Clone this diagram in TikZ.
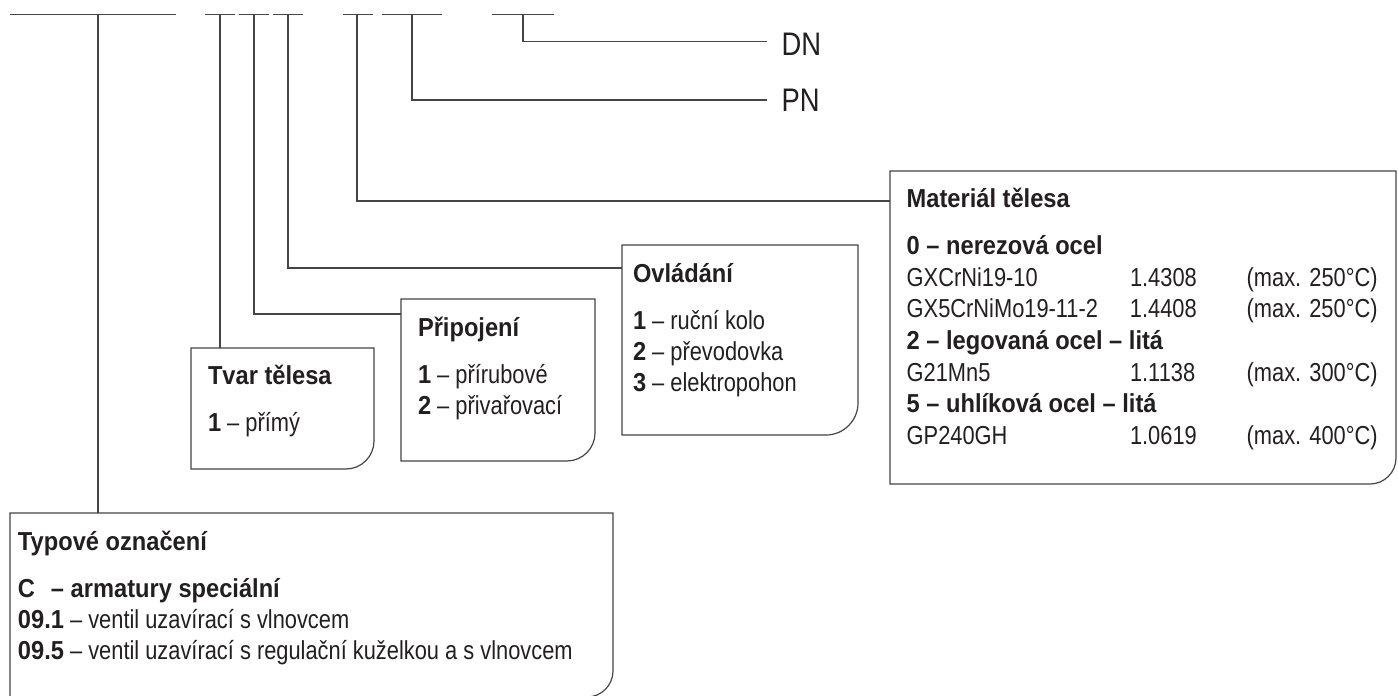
\documentclass[tikz,border=0pt]{standalone}
\usepackage{fontspec}
\setmainfont{Liberation Sans}[FakeStretch=0.84]
\newfontfamily\bdf{Liberation Sans}[FakeStretch=0.91]
\usetikzlibrary{fit}
\definecolor{ln}{HTML}{454545}
\definecolor{txt}{HTML}{231F20}
\newcommand\B[1]{{\bdf\bfseries #1}}
\tikzset{
  wire/.style={draw=ln, line width=0.6pt},
  boxline/.style={draw=ln, line width=0.6pt},
  lbl/.style={anchor=base west, inner sep=0pt, outer sep=0pt, text=txt,
    font=\fontsize{13pt}{15.5pt}\selectfont},
  ttl/.style={lbl, font=\fontsize{13pt}{15.5pt}\selectfont\bdf\bfseries},
  big/.style={anchor=base west, inner sep=0pt, outer sep=0pt, text=txt,
    font=\fontsize{16.3pt}{19pt}\selectfont},
}
\newcommand\cardbox[6]{%
  \draw[boxline] (#2,#3) -- (#4,#3) -- (#4,#5-#6)
    .. controls (#4,#5-0.45*#6) and (#4-0.45*#6,#5) .. (#4-#6,#5) -- (#2,#5) -- cycle;
  \node[fit={(#2,#3) (#4,#5)}, inner sep=0pt, outer sep=0pt] (#1) {};}
\newcommand\matrow[3]{\makebox[111.65pt][l]{#1}\makebox[58.35pt][l]{#2}#3}
\begin{document}
\begin{tikzpicture}[x=0.5pt,y=-0.5pt]
\fill[white] (0,0) rectangle (1398,696);
\useasboundingbox (0,0) rectangle (1398,696);

% top field segments
\draw[wire] (10,14.7) -- (176,14.7);
\draw[wire] (205,14.7) -- (235,14.7);
\draw[wire] (239,14.7) -- (269,14.7);
\draw[wire] (273,14.7) -- (303,14.7);
\draw[wire] (343,14.7) -- (373,14.7);
\draw[wire] (382,14.7) -- (442,14.7);
\draw[wire] (492,14.7) -- (554,14.7);
\coordinate (f1) at (98,14.7);
\coordinate (f2) at (220,14.7);
\coordinate (f3) at (254,14.7);
\coordinate (f4) at (288,14.7);
\coordinate (f5) at (357,14.7);
\coordinate (f6) at (412,14.7);
\coordinate (f7) at (523,14.7);

% boxes
\cardbox{tvar}{191}{348}{374}{469}{28}
\cardbox{pripo}{401}{299}{595}{461}{28}
\cardbox{ovl}{622}{245}{858}{435}{32}
\cardbox{mat}{890}{171}{1396}{484}{26}
\cardbox{typ}{10}{513}{613}{697}{26}

% entry points
\coordinate (in3) at (401,314);
\coordinate (in4) at (622,268);
\coordinate (in5) at (890,201);
\coordinate (e6) at (767,100);
\coordinate (e7) at (767,41.7);

% DN / PN
\node[big] (dn) at (781.7,55) {DN};
\node[big] (pn) at (781.7,111.7) {PN};

% connectors
\draw[wire] (f1) -- (f1 |- typ.north);
\draw[wire] (f2) -- (f2 |- tvar.north);
\draw[wire] (f3) |- (in3);
\draw[wire] (f4) |- (in4);
\draw[wire] (f5) |- (in5);
\draw[wire] (f6) |- (e6);
\draw[wire] (f7) |- (e7);

% Tvar tělesa
\node[ttl] (tvt) at (208,384) {Tvar tělesa};
\node[lbl] (tv1) at (208,431) {\B{1} – přímý};

% Připojení
\node[ttl] (prt) at (418,336) {Připojení};
\node[lbl] (pr1) at (418,383) {\B{1} – přírubové};
\node[lbl] (pr2) at (418,414) {\B{2} – přivařovací};

% Ovládání
\node[ttl] (ovt) at (633,282) {Ovládání};
\node[lbl] (ov1) at (633,329) {\B{1} – ruční kolo};
\node[lbl] (ov2) at (633,360) {\B{2} – převodovka};
\node[lbl] (ov3) at (633,391) {\B{3} – elektropohon};

% Materiál tělesa
\node[ttl] (mt) at (906.7,207) {Materiál tělesa};
\node[lbl] (m1) at (906.7,254) {\B{0 – nerezová ocel}};
\node[lbl] (m2) at (906.7,286) {\matrow{GXCrNi19-10}{1.4308}{(max. 250°C)}};
\node[lbl] (m3) at (906.7,317.5) {\matrow{GX5CrNiMo19-11-2}{1.4408}{(max. 250°C)}};
\node[lbl] (m4) at (906.7,349) {\B{2 – legovaná ocel – litá}};
\node[lbl] (m5) at (906.7,381) {\matrow{G21Mn5}{1.1138}{(max. 300°C)}};
\node[lbl] (m6) at (906.7,412.5) {\B{5 – uhlíková ocel – litá}};
\node[lbl] (m7) at (906.7,444) {\matrow{GP240GH}{1.0619}{(max. 400°C)}};

% Typové označení
\node[ttl] (tyt) at (18,550) {Typové označení};
\node[lbl] (ty1) at (18,597) {\B{\makebox[16.5pt][l]{C}– armatury speciální}};
\node[lbl] (ty2) at (18,628) {\B{09.1} – ventil uzavírací s vlnovcem};
\node[lbl] (ty3) at (18,659) {\B{09.5} – ventil uzavírací s regulační kuželkou a s vlnovcem};
\end{tikzpicture}
\end{document}
